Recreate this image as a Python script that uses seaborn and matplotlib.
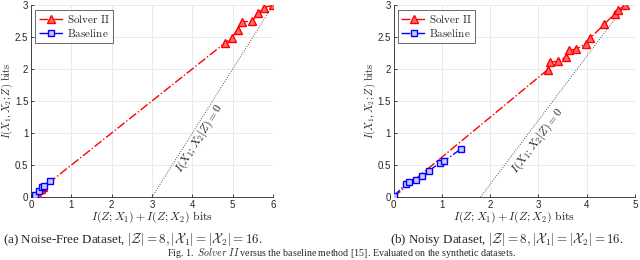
import matplotlib
matplotlib.use("Agg")
import matplotlib.pyplot as plt
import seaborn as sns
import numpy as np
from matplotlib.ticker import FormatStrFormatter

# ---- data ----
a_solver_x = [0.15, 0.25, 0.30, 4.81, 4.98, 5.12, 5.22, 5.49, 5.62, 5.77, 5.99]
a_solver_y = [0.07, 0.12, 0.15, 2.41, 2.49, 2.62, 2.74, 2.75, 2.88, 2.96, 3.00]
a_base_x = [0.10, 0.20, 0.28, 0.31, 0.46]
a_base_y = [0.04, 0.09, 0.15, 0.17, 0.25]
a_bound_x = [3.0, 6.0]
a_bound_y = [0.0, 3.0]

b_solver_x = [0.0, 3.19, 3.24, 3.40, 3.58, 3.63, 3.78, 3.98, 4.07, 4.36, 4.59, 4.65, 4.79]
b_solver_y = [0.0, 1.99, 2.11, 2.12, 2.19, 2.30, 2.31, 2.40, 2.48, 2.70, 2.87, 2.92, 3.00]
b_base_x = [0.0, 0.26, 0.31, 0.46, 0.58, 0.73, 0.97, 1.04, 1.39]
b_base_y = [0.01, 0.21, 0.24, 0.27, 0.33, 0.41, 0.54, 0.56, 0.75]
b_bound_x = [1.8, 4.8]
b_bound_y = [0.0, 3.0]

x_ticks_a = [0, 1, 2, 3, 4, 5, 6]
x_ticks_b = [0, 1, 2, 3, 4, 5]
y_ticks = [0, 0.5, 1, 1.5, 2, 2.5, 3]

sns.set_theme(style="white")
plt.rcParams["mathtext.fontset"] = "cm"
plt.rcParams["font.family"] = ["Liberation Sans", "DejaVu Sans"]

fig = plt.figure(figsize=(6.4, 2.6), dpi=100)
ax_a = fig.add_axes([31 / 640, 0.242, 242 / 640, 0.738])
ax_b = fig.add_axes([0.615, 0.242, 0.377, 0.738])

red = "#ff0000"
blue = "#0000ff"
tick_col = "#262626"

def draw(ax, sx, sy, bx, by, lx, ly, xmax, xticks, txt_xy, txt_off, ylab_x):
    ax.plot(lx, ly, linestyle=(0, (1, 1.5)), color="#555555", lw=0.7, zorder=1)
    sns.lineplot(x=sx, y=sy, ax=ax, color=red, marker="^", markersize=6,
                 markerfacecolor="#ff6b6b", markeredgecolor=red, markeredgewidth=1.0,
                 linestyle="-.", lw=1.0, sort=False, estimator=None,
                 label=r"$\mathrm{Solver\ II}$", zorder=3)
    sns.lineplot(x=bx, y=by, ax=ax, color=blue, marker="s", markersize=4,
                 markerfacecolor="#c8c8ff", markeredgecolor=blue, markeredgewidth=1.0,
                 linestyle="-.", lw=1.0, sort=False, estimator=None,
                 label=r"$\mathrm{Baseline}$", zorder=4)
    ax.set_xlim(0, xmax)
    ax.set_ylim(0, 3)
    ax.set_xticks(xticks)
    ax.set_yticks(y_ticks)
    ax.yaxis.set_major_formatter(FormatStrFormatter("%g"))
    ax.grid(True, color="#e6e6e6", lw=0.6)
    for s in ["top", "right"]:
        ax.spines[s].set_visible(False)
    for s in ["left", "bottom"]:
        ax.spines[s].set_color(tick_col)
        ax.spines[s].set_linewidth(0.6)
    ax.tick_params(axis="both", labelsize=7.0, colors=tick_col, length=2, width=0.6,
                   direction="in", pad=2, left=True, bottom=True)
    ax.set_xlabel(r"$I(Z;X_1)+I(Z;X_2)\ \mathrm{bits}$", fontsize=8.5, labelpad=0)
    ax.set_ylabel(r"$I(X_1,X_2;Z)\ \mathrm{bits}$", fontsize=7.5, va="center")
    ax.yaxis.set_label_coords(ylab_x, 0.5)
    leg = ax.legend(loc="upper left", fontsize=8, frameon=True, fancybox=False,
                    edgecolor="#262626", handlelength=2.2, borderpad=0.3,
                    labelspacing=0.2, borderaxespad=0.4, handletextpad=0.3)
    leg.get_frame().set_linewidth(0.6)
    ax.text(txt_xy[0] + txt_off, txt_xy[1], r"$I(X_1;X_2|Z)=0$", fontsize=8.3,
            rotation=45, rotation_mode="anchor", transform_rotates_text=True,
            ha="center", va="center", color="#222222")

draw(ax_a, a_solver_x, a_solver_y, a_base_x, a_base_y, a_bound_x, a_bound_y, 6, x_ticks_a,
     (3.91, 0.91), 0.27, -0.099)
draw(ax_b, b_solver_x, b_solver_y, b_base_x, b_base_y, b_bound_x, b_bound_y, 5, x_ticks_b,
     (2.68, 0.88), 0.3, -0.097)

cap_font = ["Liberation Serif"]
fig.text(133 / 640, 1 - 239 / 260, r"(a) Noise-Free Dataset, $|\mathcal{Z}|=8, |\mathcal{X}_1|=|\mathcal{X}_2|=16$.",
         ha="center", va="center", fontsize=9.4, family=cap_font)
fig.text(507 / 640, 1 - 239 / 260, r"(b) Noisy Dataset, $|\mathcal{Z}|=8, |\mathcal{X}_1|=|\mathcal{X}_2|=16$.",
         ha="center", va="center", fontsize=9.4, family=cap_font)
fig.text(341 / 640, 1 - 253 / 260, r"Fig. 1.  $\mathit{Solver\ II}$ versus the baseline method [15]. Evaluated on the synthetic datasets.",
         ha="center", va="center", fontsize=7.2, family=cap_font)

fig.savefig("out.png", dpi=100)
